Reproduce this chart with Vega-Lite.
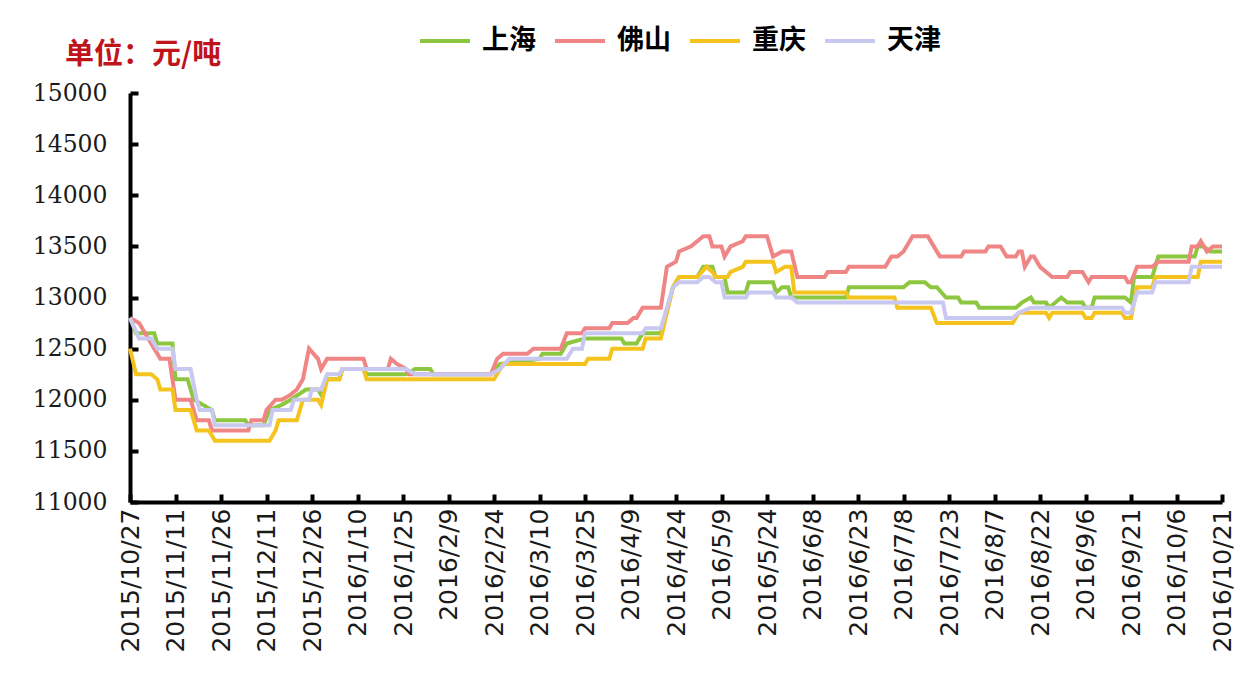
{
  "$schema": "https://vega.github.io/schema/vega-lite/v6.json",
  "autosize": {"type": "none"},
  "width": 1092,
  "height": 409,
  "padding": {"left": 130, "top": 93, "right": 25, "bottom": 171},
  "background": "white",
  "title": {
    "text": "单位：元/吨",
    "anchor": "start",
    "frame": "group",
    "orient": "top",
    "dx": -65,
    "dy": 76,
    "offset": 20,
    "font": "Noto Sans CJK SC",
    "fontSize": 29,
    "fontWeight": "bold",
    "color": "#C0141C"
  },
  "config": {
    "view": {"stroke": null},
    "axis": {"grid": false}
  },
  "data": {
    "values": [
      {"date": "2015/10/27", "city": "上海", "price": 12800},
      {"date": "2015/10/29", "city": "上海", "price": 12650},
      {"date": "2015/11/4", "city": "上海", "price": 12650},
      {"date": "2015/11/5", "city": "上海", "price": 12550},
      {"date": "2015/11/10", "city": "上海", "price": 12550},
      {"date": "2015/11/11", "city": "上海", "price": 12200},
      {"date": "2015/11/15", "city": "上海", "price": 12200},
      {"date": "2015/11/17", "city": "上海", "price": 12000},
      {"date": "2015/11/20", "city": "上海", "price": 11950},
      {"date": "2015/11/23", "city": "上海", "price": 11900},
      {"date": "2015/11/24", "city": "上海", "price": 11800},
      {"date": "2015/12/4", "city": "上海", "price": 11800},
      {"date": "2015/12/5", "city": "上海", "price": 11750},
      {"date": "2015/12/10", "city": "上海", "price": 11750},
      {"date": "2015/12/12", "city": "上海", "price": 11900},
      {"date": "2015/12/16", "city": "上海", "price": 11950},
      {"date": "2015/12/19", "city": "上海", "price": 12000},
      {"date": "2015/12/24", "city": "上海", "price": 12100},
      {"date": "2015/12/28", "city": "上海", "price": 12100},
      {"date": "2015/12/29", "city": "上海", "price": 12050},
      {"date": "2015/12/31", "city": "上海", "price": 12200},
      {"date": "2016/1/4", "city": "上海", "price": 12200},
      {"date": "2016/1/5", "city": "上海", "price": 12300},
      {"date": "2016/1/12", "city": "上海", "price": 12300},
      {"date": "2016/1/13", "city": "上海", "price": 12250},
      {"date": "2016/1/26", "city": "上海", "price": 12250},
      {"date": "2016/1/29", "city": "上海", "price": 12300},
      {"date": "2016/2/3", "city": "上海", "price": 12300},
      {"date": "2016/2/4", "city": "上海", "price": 12250},
      {"date": "2016/2/23", "city": "上海", "price": 12250},
      {"date": "2016/2/26", "city": "上海", "price": 12350},
      {"date": "2016/3/10", "city": "上海", "price": 12400},
      {"date": "2016/3/11", "city": "上海", "price": 12450},
      {"date": "2016/3/17", "city": "上海", "price": 12450},
      {"date": "2016/3/19", "city": "上海", "price": 12550},
      {"date": "2016/3/25", "city": "上海", "price": 12600},
      {"date": "2016/4/6", "city": "上海", "price": 12600},
      {"date": "2016/4/7", "city": "上海", "price": 12550},
      {"date": "2016/4/11", "city": "上海", "price": 12550},
      {"date": "2016/4/13", "city": "上海", "price": 12650},
      {"date": "2016/4/19", "city": "上海", "price": 12650},
      {"date": "2016/4/23", "city": "上海", "price": 13100},
      {"date": "2016/4/25", "city": "上海", "price": 13200},
      {"date": "2016/5/1", "city": "上海", "price": 13200},
      {"date": "2016/5/3", "city": "上海", "price": 13300},
      {"date": "2016/5/6", "city": "上海", "price": 13300},
      {"date": "2016/5/7", "city": "上海", "price": 13200},
      {"date": "2016/5/10", "city": "上海", "price": 13200},
      {"date": "2016/5/11", "city": "上海", "price": 13050},
      {"date": "2016/5/17", "city": "上海", "price": 13050},
      {"date": "2016/5/18", "city": "上海", "price": 13150},
      {"date": "2016/5/26", "city": "上海", "price": 13150},
      {"date": "2016/5/27", "city": "上海", "price": 13050},
      {"date": "2016/5/29", "city": "上海", "price": 13100},
      {"date": "2016/5/31", "city": "上海", "price": 13100},
      {"date": "2016/6/1", "city": "上海", "price": 13000},
      {"date": "2016/6/19", "city": "上海", "price": 13000},
      {"date": "2016/6/20", "city": "上海", "price": 13100},
      {"date": "2016/7/8", "city": "上海", "price": 13100},
      {"date": "2016/7/10", "city": "上海", "price": 13150},
      {"date": "2016/7/15", "city": "上海", "price": 13150},
      {"date": "2016/7/17", "city": "上海", "price": 13100},
      {"date": "2016/7/19", "city": "上海", "price": 13100},
      {"date": "2016/7/22", "city": "上海", "price": 13000},
      {"date": "2016/7/26", "city": "上海", "price": 13000},
      {"date": "2016/7/27", "city": "上海", "price": 12950},
      {"date": "2016/8/1", "city": "上海", "price": 12950},
      {"date": "2016/8/2", "city": "上海", "price": 12900},
      {"date": "2016/8/14", "city": "上海", "price": 12900},
      {"date": "2016/8/16", "city": "上海", "price": 12950},
      {"date": "2016/8/19", "city": "上海", "price": 13000},
      {"date": "2016/8/20", "city": "上海", "price": 12950},
      {"date": "2016/8/24", "city": "上海", "price": 12950},
      {"date": "2016/8/25", "city": "上海", "price": 12900},
      {"date": "2016/8/29", "city": "上海", "price": 13000},
      {"date": "2016/8/31", "city": "上海", "price": 12950},
      {"date": "2016/9/5", "city": "上海", "price": 12950},
      {"date": "2016/9/6", "city": "上海", "price": 12900},
      {"date": "2016/9/8", "city": "上海", "price": 12900},
      {"date": "2016/9/9", "city": "上海", "price": 13000},
      {"date": "2016/9/19", "city": "上海", "price": 13000},
      {"date": "2016/9/21", "city": "上海", "price": 12950},
      {"date": "2016/9/22", "city": "上海", "price": 13200},
      {"date": "2016/9/28", "city": "上海", "price": 13200},
      {"date": "2016/9/30", "city": "上海", "price": 13400},
      {"date": "2016/10/12", "city": "上海", "price": 13400},
      {"date": "2016/10/13", "city": "上海", "price": 13500},
      {"date": "2016/10/15", "city": "上海", "price": 13500},
      {"date": "2016/10/17", "city": "上海", "price": 13450},
      {"date": "2016/10/21", "city": "上海", "price": 13450},

      {"date": "2015/10/27", "city": "佛山", "price": 12800},
      {"date": "2015/10/30", "city": "佛山", "price": 12750},
      {"date": "2015/11/2", "city": "佛山", "price": 12600},
      {"date": "2015/11/4", "city": "佛山", "price": 12500},
      {"date": "2015/11/6", "city": "佛山", "price": 12400},
      {"date": "2015/11/9", "city": "佛山", "price": 12400},
      {"date": "2015/11/11", "city": "佛山", "price": 12000},
      {"date": "2015/11/16", "city": "佛山", "price": 12000},
      {"date": "2015/11/18", "city": "佛山", "price": 11800},
      {"date": "2015/11/22", "city": "佛山", "price": 11800},
      {"date": "2015/11/23", "city": "佛山", "price": 11700},
      {"date": "2015/12/5", "city": "佛山", "price": 11700},
      {"date": "2015/12/6", "city": "佛山", "price": 11800},
      {"date": "2015/12/10", "city": "佛山", "price": 11800},
      {"date": "2015/12/11", "city": "佛山", "price": 11900},
      {"date": "2015/12/14", "city": "佛山", "price": 12000},
      {"date": "2015/12/16", "city": "佛山", "price": 12000},
      {"date": "2015/12/19", "city": "佛山", "price": 12050},
      {"date": "2015/12/21", "city": "佛山", "price": 12100},
      {"date": "2015/12/23", "city": "佛山", "price": 12200},
      {"date": "2015/12/25", "city": "佛山", "price": 12500},
      {"date": "2015/12/28", "city": "佛山", "price": 12400},
      {"date": "2015/12/29", "city": "佛山", "price": 12300},
      {"date": "2015/12/31", "city": "佛山", "price": 12400},
      {"date": "2016/1/12", "city": "佛山", "price": 12400},
      {"date": "2016/1/13", "city": "佛山", "price": 12300},
      {"date": "2016/1/20", "city": "佛山", "price": 12300},
      {"date": "2016/1/21", "city": "佛山", "price": 12400},
      {"date": "2016/1/23", "city": "佛山", "price": 12350},
      {"date": "2016/1/26", "city": "佛山", "price": 12300},
      {"date": "2016/1/27", "city": "佛山", "price": 12250},
      {"date": "2016/2/23", "city": "佛山", "price": 12250},
      {"date": "2016/2/25", "city": "佛山", "price": 12400},
      {"date": "2016/2/27", "city": "佛山", "price": 12450},
      {"date": "2016/3/6", "city": "佛山", "price": 12450},
      {"date": "2016/3/8", "city": "佛山", "price": 12500},
      {"date": "2016/3/17", "city": "佛山", "price": 12500},
      {"date": "2016/3/19", "city": "佛山", "price": 12650},
      {"date": "2016/3/24", "city": "佛山", "price": 12650},
      {"date": "2016/3/25", "city": "佛山", "price": 12700},
      {"date": "2016/4/2", "city": "佛山", "price": 12700},
      {"date": "2016/4/3", "city": "佛山", "price": 12750},
      {"date": "2016/4/8", "city": "佛山", "price": 12750},
      {"date": "2016/4/10", "city": "佛山", "price": 12800},
      {"date": "2016/4/11", "city": "佛山", "price": 12800},
      {"date": "2016/4/13", "city": "佛山", "price": 12900},
      {"date": "2016/4/19", "city": "佛山", "price": 12900},
      {"date": "2016/4/21", "city": "佛山", "price": 13300},
      {"date": "2016/4/24", "city": "佛山", "price": 13350},
      {"date": "2016/4/25", "city": "佛山", "price": 13450},
      {"date": "2016/4/29", "city": "佛山", "price": 13500},
      {"date": "2016/5/3", "city": "佛山", "price": 13600},
      {"date": "2016/5/5", "city": "佛山", "price": 13600},
      {"date": "2016/5/6", "city": "佛山", "price": 13500},
      {"date": "2016/5/9", "city": "佛山", "price": 13500},
      {"date": "2016/5/10", "city": "佛山", "price": 13400},
      {"date": "2016/5/12", "city": "佛山", "price": 13500},
      {"date": "2016/5/16", "city": "佛山", "price": 13550},
      {"date": "2016/5/17", "city": "佛山", "price": 13600},
      {"date": "2016/5/24", "city": "佛山", "price": 13600},
      {"date": "2016/5/26", "city": "佛山", "price": 13400},
      {"date": "2016/5/29", "city": "佛山", "price": 13450},
      {"date": "2016/6/1", "city": "佛山", "price": 13450},
      {"date": "2016/6/3", "city": "佛山", "price": 13200},
      {"date": "2016/6/12", "city": "佛山", "price": 13200},
      {"date": "2016/6/13", "city": "佛山", "price": 13250},
      {"date": "2016/6/19", "city": "佛山", "price": 13250},
      {"date": "2016/6/20", "city": "佛山", "price": 13300},
      {"date": "2016/7/2", "city": "佛山", "price": 13300},
      {"date": "2016/7/4", "city": "佛山", "price": 13400},
      {"date": "2016/7/6", "city": "佛山", "price": 13400},
      {"date": "2016/7/8", "city": "佛山", "price": 13450},
      {"date": "2016/7/11", "city": "佛山", "price": 13600},
      {"date": "2016/7/16", "city": "佛山", "price": 13600},
      {"date": "2016/7/18", "city": "佛山", "price": 13500},
      {"date": "2016/7/20", "city": "佛山", "price": 13400},
      {"date": "2016/7/27", "city": "佛山", "price": 13400},
      {"date": "2016/7/28", "city": "佛山", "price": 13450},
      {"date": "2016/8/4", "city": "佛山", "price": 13450},
      {"date": "2016/8/5", "city": "佛山", "price": 13500},
      {"date": "2016/8/9", "city": "佛山", "price": 13500},
      {"date": "2016/8/11", "city": "佛山", "price": 13400},
      {"date": "2016/8/14", "city": "佛山", "price": 13400},
      {"date": "2016/8/15", "city": "佛山", "price": 13450},
      {"date": "2016/8/16", "city": "佛山", "price": 13450},
      {"date": "2016/8/17", "city": "佛山", "price": 13300},
      {"date": "2016/8/19", "city": "佛山", "price": 13400},
      {"date": "2016/8/20", "city": "佛山", "price": 13400},
      {"date": "2016/8/22", "city": "佛山", "price": 13300},
      {"date": "2016/8/26", "city": "佛山", "price": 13200},
      {"date": "2016/8/31", "city": "佛山", "price": 13200},
      {"date": "2016/9/1", "city": "佛山", "price": 13250},
      {"date": "2016/9/5", "city": "佛山", "price": 13250},
      {"date": "2016/9/7", "city": "佛山", "price": 13150},
      {"date": "2016/9/8", "city": "佛山", "price": 13200},
      {"date": "2016/9/19", "city": "佛山", "price": 13200},
      {"date": "2016/9/20", "city": "佛山", "price": 13150},
      {"date": "2016/9/21", "city": "佛山", "price": 13150},
      {"date": "2016/9/23", "city": "佛山", "price": 13300},
      {"date": "2016/9/28", "city": "佛山", "price": 13300},
      {"date": "2016/9/30", "city": "佛山", "price": 13350},
      {"date": "2016/10/10", "city": "佛山", "price": 13350},
      {"date": "2016/10/11", "city": "佛山", "price": 13500},
      {"date": "2016/10/13", "city": "佛山", "price": 13500},
      {"date": "2016/10/14", "city": "佛山", "price": 13550},
      {"date": "2016/10/16", "city": "佛山", "price": 13450},
      {"date": "2016/10/18", "city": "佛山", "price": 13500},
      {"date": "2016/10/21", "city": "佛山", "price": 13500},

      {"date": "2015/10/27", "city": "重庆", "price": 12500},
      {"date": "2015/10/29", "city": "重庆", "price": 12250},
      {"date": "2015/11/3", "city": "重庆", "price": 12250},
      {"date": "2015/11/5", "city": "重庆", "price": 12200},
      {"date": "2015/11/6", "city": "重庆", "price": 12100},
      {"date": "2015/11/10", "city": "重庆", "price": 12100},
      {"date": "2015/11/11", "city": "重庆", "price": 11900},
      {"date": "2015/11/16", "city": "重庆", "price": 11900},
      {"date": "2015/11/18", "city": "重庆", "price": 11700},
      {"date": "2015/11/22", "city": "重庆", "price": 11700},
      {"date": "2015/11/24", "city": "重庆", "price": 11600},
      {"date": "2015/12/12", "city": "重庆", "price": 11600},
      {"date": "2015/12/14", "city": "重庆", "price": 11700},
      {"date": "2015/12/15", "city": "重庆", "price": 11800},
      {"date": "2015/12/21", "city": "重庆", "price": 11800},
      {"date": "2015/12/23", "city": "重庆", "price": 12000},
      {"date": "2015/12/28", "city": "重庆", "price": 12000},
      {"date": "2015/12/29", "city": "重庆", "price": 11950},
      {"date": "2015/12/31", "city": "重庆", "price": 12200},
      {"date": "2016/1/4", "city": "重庆", "price": 12200},
      {"date": "2016/1/5", "city": "重庆", "price": 12300},
      {"date": "2016/1/12", "city": "重庆", "price": 12300},
      {"date": "2016/1/13", "city": "重庆", "price": 12200},
      {"date": "2016/2/24", "city": "重庆", "price": 12200},
      {"date": "2016/2/27", "city": "重庆", "price": 12350},
      {"date": "2016/3/25", "city": "重庆", "price": 12350},
      {"date": "2016/3/26", "city": "重庆", "price": 12400},
      {"date": "2016/4/2", "city": "重庆", "price": 12400},
      {"date": "2016/4/3", "city": "重庆", "price": 12500},
      {"date": "2016/4/13", "city": "重庆", "price": 12500},
      {"date": "2016/4/14", "city": "重庆", "price": 12600},
      {"date": "2016/4/19", "city": "重庆", "price": 12600},
      {"date": "2016/4/23", "city": "重庆", "price": 13100},
      {"date": "2016/4/25", "city": "重庆", "price": 13200},
      {"date": "2016/5/1", "city": "重庆", "price": 13200},
      {"date": "2016/5/4", "city": "重庆", "price": 13300},
      {"date": "2016/5/6", "city": "重庆", "price": 13250},
      {"date": "2016/5/7", "city": "重庆", "price": 13200},
      {"date": "2016/5/11", "city": "重庆", "price": 13200},
      {"date": "2016/5/12", "city": "重庆", "price": 13250},
      {"date": "2016/5/16", "city": "重庆", "price": 13300},
      {"date": "2016/5/17", "city": "重庆", "price": 13350},
      {"date": "2016/5/26", "city": "重庆", "price": 13350},
      {"date": "2016/5/27", "city": "重庆", "price": 13250},
      {"date": "2016/5/30", "city": "重庆", "price": 13300},
      {"date": "2016/6/1", "city": "重庆", "price": 13300},
      {"date": "2016/6/2", "city": "重庆", "price": 13050},
      {"date": "2016/6/19", "city": "重庆", "price": 13050},
      {"date": "2016/6/20", "city": "重庆", "price": 13000},
      {"date": "2016/7/5", "city": "重庆", "price": 13000},
      {"date": "2016/7/6", "city": "重庆", "price": 12900},
      {"date": "2016/7/17", "city": "重庆", "price": 12900},
      {"date": "2016/7/19", "city": "重庆", "price": 12750},
      {"date": "2016/8/13", "city": "重庆", "price": 12750},
      {"date": "2016/8/15", "city": "重庆", "price": 12850},
      {"date": "2016/8/24", "city": "重庆", "price": 12850},
      {"date": "2016/8/25", "city": "重庆", "price": 12800},
      {"date": "2016/8/26", "city": "重庆", "price": 12850},
      {"date": "2016/9/5", "city": "重庆", "price": 12850},
      {"date": "2016/9/6", "city": "重庆", "price": 12800},
      {"date": "2016/9/8", "city": "重庆", "price": 12800},
      {"date": "2016/9/9", "city": "重庆", "price": 12850},
      {"date": "2016/9/18", "city": "重庆", "price": 12850},
      {"date": "2016/9/19", "city": "重庆", "price": 12800},
      {"date": "2016/9/21", "city": "重庆", "price": 12800},
      {"date": "2016/9/23", "city": "重庆", "price": 13100},
      {"date": "2016/9/28", "city": "重庆", "price": 13100},
      {"date": "2016/9/29", "city": "重庆", "price": 13200},
      {"date": "2016/10/13", "city": "重庆", "price": 13200},
      {"date": "2016/10/14", "city": "重庆", "price": 13350},
      {"date": "2016/10/21", "city": "重庆", "price": 13350},

      {"date": "2015/10/27", "city": "天津", "price": 12800},
      {"date": "2015/10/30", "city": "天津", "price": 12600},
      {"date": "2015/11/3", "city": "天津", "price": 12600},
      {"date": "2015/11/5", "city": "天津", "price": 12500},
      {"date": "2015/11/10", "city": "天津", "price": 12500},
      {"date": "2015/11/11", "city": "天津", "price": 12300},
      {"date": "2015/11/16", "city": "天津", "price": 12300},
      {"date": "2015/11/18", "city": "天津", "price": 12000},
      {"date": "2015/11/19", "city": "天津", "price": 11900},
      {"date": "2015/11/23", "city": "天津", "price": 11900},
      {"date": "2015/11/24", "city": "天津", "price": 11750},
      {"date": "2015/12/12", "city": "天津", "price": 11750},
      {"date": "2015/12/13", "city": "天津", "price": 11900},
      {"date": "2015/12/19", "city": "天津", "price": 11900},
      {"date": "2015/12/20", "city": "天津", "price": 12000},
      {"date": "2015/12/25", "city": "天津", "price": 12000},
      {"date": "2015/12/26", "city": "天津", "price": 12100},
      {"date": "2015/12/29", "city": "天津", "price": 12100},
      {"date": "2015/12/31", "city": "天津", "price": 12250},
      {"date": "2016/1/4", "city": "天津", "price": 12250},
      {"date": "2016/1/5", "city": "天津", "price": 12300},
      {"date": "2016/1/26", "city": "天津", "price": 12300},
      {"date": "2016/1/29", "city": "天津", "price": 12250},
      {"date": "2016/2/23", "city": "天津", "price": 12250},
      {"date": "2016/2/26", "city": "天津", "price": 12300},
      {"date": "2016/2/29", "city": "天津", "price": 12400},
      {"date": "2016/3/19", "city": "天津", "price": 12400},
      {"date": "2016/3/21", "city": "天津", "price": 12500},
      {"date": "2016/3/24", "city": "天津", "price": 12500},
      {"date": "2016/3/25", "city": "天津", "price": 12650},
      {"date": "2016/4/13", "city": "天津", "price": 12650},
      {"date": "2016/4/14", "city": "天津", "price": 12700},
      {"date": "2016/4/19", "city": "天津", "price": 12700},
      {"date": "2016/4/23", "city": "天津", "price": 13100},
      {"date": "2016/4/25", "city": "天津", "price": 13150},
      {"date": "2016/5/1", "city": "天津", "price": 13150},
      {"date": "2016/5/3", "city": "天津", "price": 13200},
      {"date": "2016/5/5", "city": "天津", "price": 13200},
      {"date": "2016/5/7", "city": "天津", "price": 13150},
      {"date": "2016/5/9", "city": "天津", "price": 13150},
      {"date": "2016/5/10", "city": "天津", "price": 13000},
      {"date": "2016/5/17", "city": "天津", "price": 13000},
      {"date": "2016/5/18", "city": "天津", "price": 13050},
      {"date": "2016/5/26", "city": "天津", "price": 13050},
      {"date": "2016/5/27", "city": "天津", "price": 13000},
      {"date": "2016/6/1", "city": "天津", "price": 13000},
      {"date": "2016/6/3", "city": "天津", "price": 12950},
      {"date": "2016/7/21", "city": "天津", "price": 12950},
      {"date": "2016/7/22", "city": "天津", "price": 12800},
      {"date": "2016/8/13", "city": "天津", "price": 12800},
      {"date": "2016/8/15", "city": "天津", "price": 12850},
      {"date": "2016/8/19", "city": "天津", "price": 12900},
      {"date": "2016/9/18", "city": "天津", "price": 12900},
      {"date": "2016/9/19", "city": "天津", "price": 12850},
      {"date": "2016/9/21", "city": "天津", "price": 12850},
      {"date": "2016/9/23", "city": "天津", "price": 13050},
      {"date": "2016/9/28", "city": "天津", "price": 13050},
      {"date": "2016/9/29", "city": "天津", "price": 13150},
      {"date": "2016/10/10", "city": "天津", "price": 13150},
      {"date": "2016/10/11", "city": "天津", "price": 13300},
      {"date": "2016/10/21", "city": "天津", "price": 13300}
    ]
  },
  "mark": {"type": "line", "strokeWidth": 4, "strokeJoin": "miter"},
  "encoding": {
    "x": {
      "field": "date",
      "type": "temporal",
      "scale": {"domain": [{"year": 2015, "month": 10, "date": 27}, {"year": 2016, "month": 10, "date": 21}], "nice": false},
      "axis": {
        "title": null,
        "values": [
          {"year": 2015, "month": 10, "date": 27},
          {"year": 2015, "month": 11, "date": 11},
          {"year": 2015, "month": 11, "date": 26},
          {"year": 2015, "month": 12, "date": 11},
          {"year": 2015, "month": 12, "date": 26},
          {"year": 2016, "month": 1, "date": 10},
          {"year": 2016, "month": 1, "date": 25},
          {"year": 2016, "month": 2, "date": 9},
          {"year": 2016, "month": 2, "date": 24},
          {"year": 2016, "month": 3, "date": 10},
          {"year": 2016, "month": 3, "date": 25},
          {"year": 2016, "month": 4, "date": 9},
          {"year": 2016, "month": 4, "date": 24},
          {"year": 2016, "month": 5, "date": 9},
          {"year": 2016, "month": 5, "date": 24},
          {"year": 2016, "month": 6, "date": 8},
          {"year": 2016, "month": 6, "date": 23},
          {"year": 2016, "month": 7, "date": 8},
          {"year": 2016, "month": 7, "date": 23},
          {"year": 2016, "month": 8, "date": 7},
          {"year": 2016, "month": 8, "date": 22},
          {"year": 2016, "month": 9, "date": 6},
          {"year": 2016, "month": 9, "date": 21},
          {"year": 2016, "month": 10, "date": 6},
          {"year": 2016, "month": 10, "date": 21}
        ],
        "format": "%Y/%-m/%-d",
        "labelAngle": -90,
        "labelFont": "DejaVu Sans",
        "labelFontSize": 25,
        "labelColor": "#1a1a1a",
        "labelPadding": 14,
        "labelOverlap": false,
        "labelFlush": false,
        "domainColor": "#000000",
        "domainWidth": 4,
        "tickColor": "#000000",
        "tickWidth": 4,
        "tickSize": -8,
        "grid": false
      }
    },
    "y": {
      "field": "price",
      "type": "quantitative",
      "scale": {"domain": [11000, 15000], "nice": false, "zero": false},
      "axis": {
        "title": null,
        "values": [11000, 11500, 12000, 12500, 13000, 13500, 14000, 14500, 15000],
        "format": "d",
        "labelFont": "DejaVu Serif",
        "labelFontSize": 23.5,
        "labelColor": "#1a1a1a",
        "labelPadding": 31,
        "domainColor": "#000000",
        "domainWidth": 4,
        "tickColor": "#000000",
        "tickWidth": 4,
        "tickSize": -8,
        "grid": false
      }
    },
    "color": {
      "field": "city",
      "type": "nominal",
      "sort": ["上海", "佛山", "重庆", "天津"],
      "scale": {
        "domain": ["上海", "佛山", "重庆", "天津"],
        "range": ["#8DC63F", "#F08585", "#F5C31E", "#C8C8F0"]
      },
      "legend": {
        "title": null,
        "orient": "none",
        "direction": "horizontal",
        "legendX": 288,
        "legendY": -79,
        "symbolType": "stroke",
        "symbolSize": 2500,
        "symbolStrokeWidth": 4,
        "labelFont": "Noto Sans CJK SC",
        "labelFontSize": 27,
        "labelFontWeight": "bold",
        "labelColor": "#000000",
        "labelOffset": 10,
        "columnPadding": 11
      }
    }
  }
}
